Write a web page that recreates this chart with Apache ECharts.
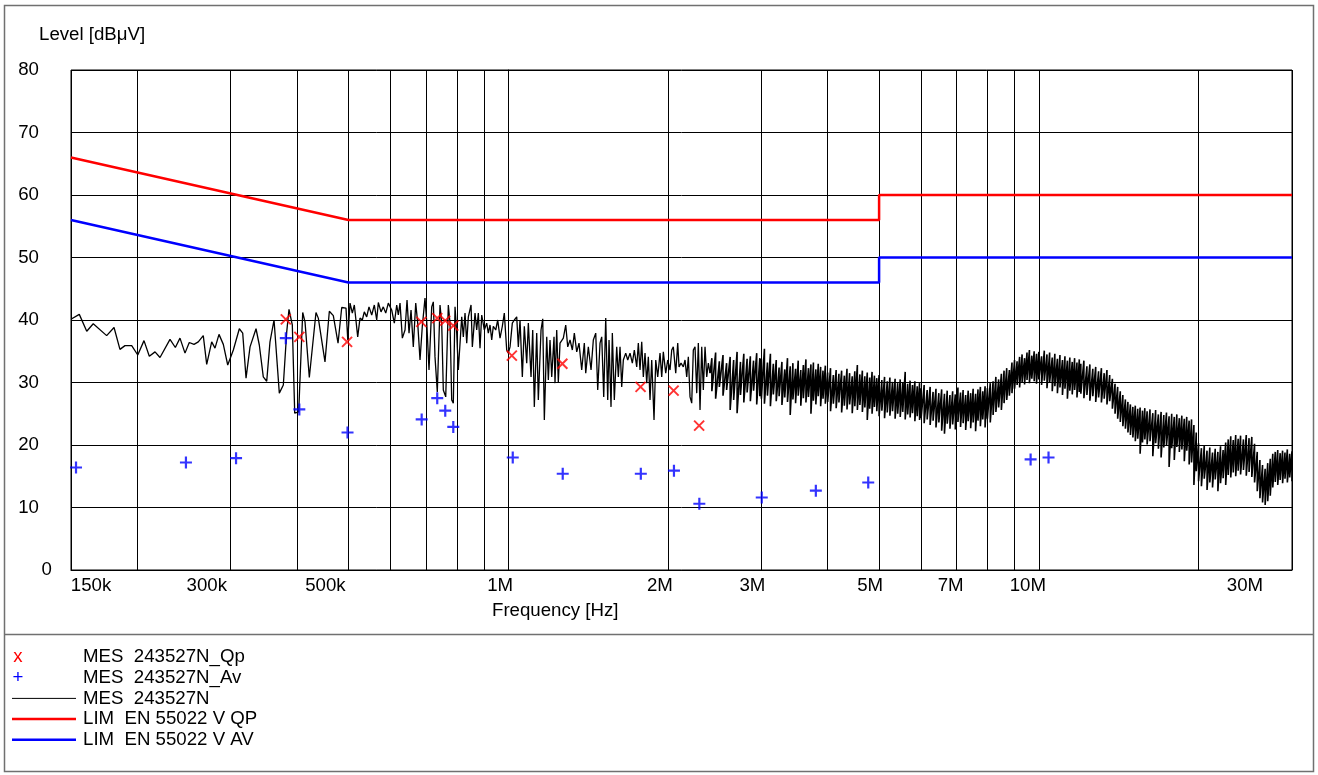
<!DOCTYPE html>
<html><head><meta charset="utf-8">
<script src="https://cdn.jsdelivr.net/npm/echarts@6/dist/echarts.min.js"></script>
<style>html,body{margin:0;padding:0;background:#fff}#c{width:1318px;height:775px}</style>
</head><body><div id="c"></div>
<script>
// ---------------- data ----------------
const xTickMHz = [0.15,0.2,0.3,0.4,0.5,0.6,0.7,0.8,0.9,1,2,3,4,5,6,7,8,9,10,20,30];
const xLabelMHz = [0.15,0.3,0.5,1,2,3,5,7,10,30];
const xLabelText = ['150k','300k','500k','1M','2M','3M','5M','7M','10M','30M'];
const yMin = 0, yMax = 80, yStep = 10;

const limitQP = [[0.15,66],[0.5,56],[5,56],[5,60],[30,60]];
const limitAV = [[0.15,56],[0.5,46],[5,46],[5,50],[30,50]];

const measQP = [[0.381,40.1],[0.404,37.3],[0.497,36.5],[0.686,39.7],[0.735,40.3],[0.761,39.9],[0.788,39.1],[1.016,34.3],[1.265,33.0],[1.776,29.3],[2.050,28.7],[2.290,23.1]];
const measAV = [[0.1533,16.4],[0.247,17.2],[0.307,17.9],[0.381,37.1],[0.404,25.7],[0.498,22.0],[0.687,24.1],[0.735,27.5],[0.761,25.5],[0.788,22.9],[1.020,18.0],[1.267,15.4],[1.778,15.4],[2.053,15.9],[2.292,10.6],[3.005,11.6],[3.80,12.7],[4.77,14.0],[9.65,17.7],[10.43,18.0]];

// scan trace: [MHz, level] or [MHz, level, level2] (two readings at one frequency)
const scanLow = [[0.1505,40.2],[0.1555,40.9],[0.1606,38.2],[0.1652,39.4],[0.1751,37.5],[0.1808,38.8],[0.1855,35.3],[0.1896,35.9],[0.1952,35.9],[0.2004,34.4],[0.2059,36.7],[0.2107,34.2],[0.2160,34.9],[0.2207,34.0],[0.2305,36.9],[0.2359,35.6],[0.2407,37.1],[0.2460,34.7],[0.2506,36.4],[0.2558,36.1],[0.2606,36.5],[0.2663,37.5],[0.2703,32.9],[0.2762,36.5],[0.2802,35.5],[0.2851,37.7],[0.2905,36.1],[0.2961,32.8],[0.3034,35.2],[0.3114,38.6],[0.3160,37.9],[0.3206,30.7],[0.3262,35.7],[0.3348,38.6],[0.3396,36.0],[0.3455,30.9],[0.3507,30.2],[0.3557,36.5],[0.3620,40.0],[0.3704,28.3],[0.3769,29.6],[0.3825,38.1],[0.3863,41.7],[0.3919,39.2],[0.3960,25.1],[0.4029,25.3],[0.4100,41.2],[0.4141,39.7],[0.4219,30.8],[0.4343,41.2],[0.4387,40.3],[0.4516,33.3],[0.4602,41.4],[0.4682,40.7],[0.4779,36.3],[0.4856,42.0],[0.4947,41.9],[0.4985,36.8]];
const scanMid = [[0.5034,42.7],[0.5085,41.1],[0.5129,42.4],[0.5205,37.3],[0.5257,40.3],[0.5310,40.0],[0.5356,41.3],[0.5412,40.5],[0.5466,42.1],[0.5531,40.8],[0.5594,42.4],[0.5652,40.0],[0.5692,42.8],[0.5759,41.3],[0.5816,42.1],[0.5878,41.1],[0.5944,42.7],[0.6032,41.6],[0.6101,39.5],[0.6165,42.4],[0.6208,40.8],[0.6254,42.7],[0.6317,37.1],[0.6391,38.4],[0.6447,43.2],[0.6503,37.9],[0.6560,41.6],[0.6625,35.7],[0.6695,42.7],[0.6753,39.5],[0.6821,33.6],[0.6889,39.0],[0.6970,43.5],[0.7022,39.7],[0.7092,32.0],[0.7176,42.1],[0.7226,42.9],[0.7279,34.1],[0.7352,28.5],[0.7439,42.4],[0.7494,39.5],[0.7546,28.8],[0.7626,27.7],[0.7712,42.4],[0.7769,39.5],[0.7826,27.2],[0.7881,26.7],[0.7940,42.1],[0.7998,37.9],[0.8054,32.0],[0.8114,32.3],[0.8174,40.5],[0.8231,37.3],[0.8292,41.1],[0.8353,36.3],[0.8412,40.5],[0.8511,42.4],[0.8559,35.7],[0.8660,41.1],[0.8723,38.4],[0.8785,41.1],[0.8849,35.5],[0.8915,40.8],[0.9016,38.4],[0.9110,39.5],[0.9174,37.9],[0.9242,39.2],[0.9310,36.8],[0.9375,39.0],[0.9473,38.4],[0.9556,40.0],[0.9652,37.1],[0.9749,39.0],[0.9833,41.1],[0.9936,35.2],[1.0006,34.7]];
const scanHigh1 = [[1.0080,35.7],[1.0181,39.5],[1.0270,40.0],[1.0377,40.5],[1.0450,35.7],[1.0527,40.0],[1.0633,30.9],[1.0725,39.0],[1.0837,33.1],[1.0913,39.5],[1.1042,30.9],[1.1123,38.4],[1.1201,26.1],[1.1318,37.9],[1.1397,27.2],[1.1531,38.4],[1.1617,40.2],[1.1698,24.0],[1.1820,37.3],[1.1903,30.4],[1.1990,36.8],[1.2079,30.9],[1.2200,37.3],[1.2253,29.9],[1.2344,38.4],[1.2430,30.1],[1.2522,36.3],[1.2703,37.1],[1.2836,39.2],[1.2948,35.7],[1.3078,36.8],[1.3210,35.2],[1.3324,37.9],[1.3463,34.9],[1.3598,36.3],[1.3758,32.0],[1.3915,36.3],[1.4000,31.5],[1.4159,35.7],[1.4326,32.0],[1.4469,36.8],[1.4621,37.9],[1.4748,28.8],[1.4896,36.3],[1.5006,37.3],[1.5137,27.7],[1.5269,40.3],[1.5402,27.2],[1.5489,36.8],[1.5624,26.1],[1.5713,37.9],[1.5849,27.2],[1.6015,35.7],[1.6128,30.9],[1.6246,35.7],[1.6366,29.3],[1.6481,33.6],[1.6653,34.7],[1.6799,33.6],[1.6967,34.7],[1.7138,33.1],[1.7287,35.2],[1.7467,32.5],[1.7590,36.3],[1.7719,32.0],[1.7850,36.5],[1.7975,30.9],[1.8108,34.7],[1.8242,29.9],[1.8370,34.1],[1.8505,27.2],[1.8642,33.6],[1.8829,24.0],[1.8969,33.6],[1.9134,30.9],[1.9326,34.7],[1.9469,30.9],[1.9604,34.9],[1.9810,31.5],[1.9983,33.6],[2.0183,32.0],[2.0332,35.2],[2.0474,35.7],[2.0689,31.5],[2.0869,36.3],[2.0987,32.5],[2.1170,33.1],[2.1382,32.5],[2.1541,33.6],[2.1699,30.9],[2.1852,34.1],[2.2013,27.7],[2.2175,26.7],[2.2330,35.2],[2.2496,35.7],[2.2662,28.3],[2.2821,36.3],[2.2989,25.6],[2.3159,35.7],[2.3320,28.8],[2.3494,35.7],[2.3667,30.9],[2.3833,33.1],[2.4009,31.5]];
const scanHigh2 = [[2.42,33.9,28.6],[2.46,34.8,27.4],[2.50,33.4,29.3],[2.54,34.4,27.9],[2.58,33.1,28.8],[2.62,34.1,25.6],[2.66,33.6,27.2],[2.70,34.9,25.1],[2.74,33.3,28.0],[2.78,34.6,26.8],[2.82,33.8,28.4],[2.86,34.2,27.0],[2.90,33.5,28.7],[2.94,34.7,26.5],[2.98,33.9,27.8],
[3.00,33.8,27.4],[3.04,35.4,26.6],[3.08,33.2,27.9],[3.12,34.6,26.2],[3.16,33.0,28.1],[3.20,33.6,27.0],[3.24,32.4,27.8],[3.28,33.3,26.4],[3.32,32.1,27.6],[3.36,33.9,26.9],[3.40,32.6,24.8],[3.44,33.1,27.3],[3.48,32.2,26.7],[3.52,33.5,27.9],[3.56,32.0,26.3],[3.60,32.8,27.5],[3.64,33.7,26.8],[3.68,32.3,27.7],[3.72,32.9,25.0],[3.76,33.2,27.1],[3.80,32.1,26.5],[3.84,33.0,27.8],[3.88,32.5,26.2],[3.92,31.9,27.4],[3.96,32.7,26.6],
[4.00,31.6,26.9],[4.05,32.3,25.4],[4.10,31.2,26.6],[4.15,32.0,25.9],[4.20,31.4,26.8],[4.25,31.9,25.2],[4.30,31.1,26.3],[4.35,32.2,25.7],[4.40,31.5,26.5],[4.45,31.0,25.1],[4.50,31.8,26.2],[4.55,32.8,25.6],[4.60,31.3,26.4],[4.65,31.9,25.3],[4.70,31.0,26.0],[4.75,31.6,24.0],[4.80,30.8,25.8],[4.85,31.7,25.0],[4.90,31.1,26.1],[4.95,30.7,25.4],
[5.00,31.2,24.6],[5.06,30.4,25.5],[5.12,30.9,24.3],[5.18,30.2,25.2],[5.24,30.8,24.7],[5.30,30.1,25.4],[5.36,30.6,24.2],[5.42,29.9,25.0],[5.48,30.5,24.5],[5.54,30.0,25.3],[5.60,31.7,24.1],[5.66,29.8,24.9],[5.72,30.3,24.4],[5.78,29.6,25.1],[5.84,30.2,23.8],[5.90,29.4,24.6],[5.96,29.9,24.0],
[6.00,29.1,24.3],[6.08,29.6,23.5],[6.16,28.8,24.1],[6.24,29.3,23.2],[6.32,28.5,23.9],[6.40,29.0,22.8],[6.48,28.3,23.6],[6.56,28.9,22.3],[6.64,28.2,21.8],[6.72,28.7,23.4],[6.80,28.0,22.6],[6.88,28.6,23.3],[6.96,28.1,22.5],[7.04,29.2,23.7],[7.12,28.4,22.9],[7.20,28.8,23.5],[7.28,28.0,22.4],[7.36,28.7,23.8],[7.44,28.3,22.7],[7.52,29.0,23.6],[7.60,28.2,22.2],[7.68,28.9,23.9],[7.76,29.3,23.0],[7.84,28.6,24.1],[7.92,29.4,22.8],
[8.0,29.1,24.2],[8.1,29.9,23.6],[8.2,30.2,24.8],[8.3,30.9,25.3],[8.4,30.5,26.0],[8.5,31.4,25.6],[8.6,31.9,26.7],[8.7,32.3,27.2],[8.8,32.0,27.9],[8.9,33.2,28.3],[9.0,33.6,29.0],[9.1,33.4,29.6],[9.2,34.1,29.2],[9.3,34.5,30.1],[9.4,33.9,29.7],[9.5,34.8,30.4],[9.6,35.2,29.9],[9.7,34.3,30.6],[9.8,35.0,30.2],[9.9,34.6,29.8],
[10.00,34.9,30.5],[10.12,34.2,29.6],[10.24,35.1,30.3],[10.36,34.5,29.1],[10.48,34.8,30.0],[10.60,34.0,28.6],[10.72,34.6,29.4],[10.84,33.8,28.3],[10.96,34.4,29.2],[11.08,33.6,28.0],[11.20,34.2,29.0],[11.32,33.5,27.4],[11.44,34.0,28.7],[11.56,33.3,28.1],[11.68,33.9,28.8],[11.80,33.2,27.6],[11.92,33.7,28.5],
[12.00,33.0,28.2],[12.16,33.5,27.5],[12.32,32.6,28.0],[12.48,32.9,27.1],[12.64,32.2,27.8],[12.80,32.5,26.9],[12.96,31.8,27.6],[13.12,32.3,26.8],[13.28,31.5,27.4],[13.44,32.0,26.5],[13.60,31.2,27.0],[13.76,30.6,25.8],[13.92,29.8,25.0],[14.08,29.3,24.2],[14.24,28.6,23.7],[14.40,28.0,23.0],[14.56,27.3,22.6],[14.72,26.9,22.0],[14.88,26.5,21.6],[15.04,26.1,21.2],[15.20,26.3,20.6],[15.36,25.8,21.0],[15.52,26.0,18.6],[15.68,25.5,20.4],[15.84,25.9,20.9],
[16.0,25.4,20.1],[16.2,25.7,20.6],[16.4,25.1,18.2],[16.6,25.6,20.3],[16.8,24.9,19.4],[17.0,25.3,18.0],[17.2,24.8,19.6],[17.4,25.2,19.9],[17.6,24.6,16.5],[17.8,25.0,19.5],[18.0,24.5,17.6],[18.2,24.9,19.7],[18.4,24.3,18.9],[18.6,24.7,19.3],[18.8,24.2,17.4],[19.0,24.5,19.1],[19.2,23.9,16.9],[19.4,24.1,17.2],[19.6,23.2,13.6],[19.8,22.0,15.8],
[20.00,20.3,14.2],[20.25,19.5,13.4],[20.50,19.9,14.6],[20.75,19.1,12.8],[21.00,19.6,14.0],[21.25,18.8,13.2],[21.50,19.4,14.5],[21.75,18.9,12.6],[22.00,19.8,13.9],[22.25,19.2,14.7],[22.50,20.4,13.6],[22.75,20.9,15.2],[23.00,21.4,14.8],[23.25,20.8,15.6],[23.50,21.6,15.0],[23.75,21.0,15.9],
[24.0,21.5,15.3],[24.3,20.9,16.0],[24.6,21.6,15.1],[24.9,21.1,15.7],[25.2,21.3,14.9],[25.5,20.2,14.0],[25.8,18.9,12.6],[26.1,17.6,11.5],[26.4,16.8,10.8],[26.7,16.2,10.4],[27.0,17.1,11.0],[27.3,17.8,11.9],[27.6,18.6,13.2],[27.9,18.9,14.1],[28.2,19.2,13.6],[28.5,18.7,14.4],[28.8,19.1,13.9],[29.1,18.8,14.6],[29.4,19.3,14.0],[29.7,18.6,14.8],[30.0,19.0,14.2]];

const legendItems = [
  {mark:'x', color:'#ff0000', text:'MES  243527N_Qp'},
  {mark:'+', color:'#0000ff', text:'MES  243527N_Av'},
  {line:true, color:'#000000', width:1, text:'MES  243527N'},
  {line:true, color:'#ff0000', width:2.5, text:'LIM  EN 55022 V QP'},
  {line:true, color:'#0000ff', width:2.5, text:'LIM  EN 55022 V AV'}
];

// ---------------- style ----------------
const FONT = '"Liberation Sans", Arial, Helvetica, sans-serif';
const FS = 18.67;
const xLabelShift = [20,-24,-23,-8,-8,-9,-9,-6,-11,-47];
const L = v => Math.log10(v);

function toPts(rows){
  const p = [];
  rows.forEach(r => { p.push([L(r[0]), r[1]]); if (r.length > 2) p.push([L(r[0]), r[2]]); });
  return p;
}
const tracePtsA = toPts(scanLow.concat(scanMid, scanHigh1));
const tracePtsB = toPts(scanHigh1.slice(-1).concat(scanHigh2));

const xRich = {};
xLabelShift.forEach((d,i) => {
  xRich['l'+i] = {fontSize:FS, fontFamily:FONT, color:'#000',
    padding: d >= 0 ? [0,0,0,2*d] : [0,-2*d,0,0]};
});
const yRich = {
  n:{fontSize:FS, fontFamily:FONT, color:'#000', padding:[0,13,0,0]},
  z:{fontSize:FS, fontFamily:FONT, color:'#000'}
};

const graphics = [
  {type:'rect', shape:{x:4.5,y:5.5,width:1309,height:766}, style:{fill:null, stroke:'#707070', lineWidth:1.5}, silent:true},
  {type:'line', shape:{x1:4.5,y1:634.5,x2:1313.5,y2:634.5}, style:{stroke:'#707070', lineWidth:1.5}, silent:true},
  {type:'text', x:39, y:35, style:{text:'Level [dBμV]', fontSize:FS, fontFamily:FONT, fill:'#000', verticalAlign:'middle', align:'left'}},
  {type:'text', x:492, y:611, style:{text:'Frequency [Hz]', fontSize:FS, fontFamily:FONT, fill:'#000', verticalAlign:'middle', align:'left'}}
];
const rowY0 = 657, rowDY = 20.7;
legendItems.forEach((it,i) => {
  const y = rowY0 + i*rowDY;
  if (it.line) {
    graphics.push({type:'line', shape:{x1:12,y1:y,x2:76,y2:y}, style:{stroke:it.color, lineWidth:it.width}});
  } else {
    graphics.push({type:'text', x:18, y:y, style:{text:it.mark, fontSize:FS, fontFamily:FONT, fill:it.color, align:'center', verticalAlign:'middle'}});
  }
  graphics.push({type:'text', x:83, y:y, style:{text:it.text, fontSize:FS, fontFamily:FONT, fill:'#000', verticalAlign:'middle', align:'left'}});
});

const chart = echarts.init(document.getElementById('c'), null, {renderer:'canvas'});
chart.setOption({
  animation:false,
  backgroundColor:'#fff',
  grid:{left:71, top:70, right:26, bottom:205, show:true, borderColor:'#000', borderWidth:1, backgroundColor:'transparent'},
  xAxis:{
    type:'value', min:L(0.15), max:L(30),
    axisLine:{show:true, lineStyle:{color:'#000', width:1}},
    axisTick:{show:false, customValues: xTickMHz.map(L)},
    splitLine:{show:true, lineStyle:{color:'#000', width:1}},
    axisLabel:{
      customValues: xLabelMHz.map(L), interval:0, margin:6,
      fontSize:FS, fontFamily:FONT, color:'#000', rich:xRich,
      formatter: v => { const i = xLabelMHz.findIndex(m => Math.abs(L(m)-v) < 1e-4); return i < 0 ? '' : '{l'+i+'|'+xLabelText[i]+'}'; }
    }
  },
  yAxis:{
    type:'value', min:yMin, max:yMax, interval:yStep,
    axisLine:{show:true, lineStyle:{color:'#000', width:1}},
    axisTick:{show:false},
    splitLine:{show:true, lineStyle:{color:'#000', width:1}},
    axisLabel:{margin:19, align:'right', fontSize:FS, fontFamily:FONT, color:'#000', rich:yRich,
      formatter: v => v === 0 ? '{z|0}' : '{n|'+v+'}'}
  },
  series:[
    {type:'line', name:'MES  243527N', data:tracePtsA, showSymbol:false, symbol:'none', sampling:null,
      lineStyle:{color:'#000', width:1.3}, silent:true, z:2},
    {type:'line', name:'MES  243527N', data:tracePtsB, showSymbol:false, symbol:'none', sampling:null,
      lineStyle:{color:'#000', width:1.6}, silent:true, z:2},
    {type:'line', name:'LIM  EN 55022 V QP', data:limitQP.map(p=>[L(p[0]),p[1]]), showSymbol:false, symbol:'none',
      lineStyle:{color:'#ff0000', width:2.5}, silent:true, z:3},
    {type:'line', name:'LIM  EN 55022 V AV', data:limitAV.map(p=>[L(p[0]),p[1]]), showSymbol:false, symbol:'none',
      lineStyle:{color:'#0000ff', width:2.5}, silent:true, z:3},
    {type:'scatter', name:'MES  243527N_Qp', data:measQP.map(p=>[L(p[0]),p[1]]), symbol:'path://M0,0L10,10M10,0L0,10', symbolSize:10,
      itemStyle:{color:'rgba(0,0,0,0)', borderColor:'#ff0000', borderWidth:2}, silent:true, z:5},
    {type:'scatter', name:'MES  243527N_Av', data:measAV.map(p=>[L(p[0]),p[1]]), symbol:'path://M5,0L5,10M0,5L10,5', symbolSize:12,
      itemStyle:{color:'rgba(0,0,0,0)', borderColor:'#0000ff', borderWidth:2.2}, silent:true, z:5}
  ],
  graphic: graphics
});
</script></body></html>
